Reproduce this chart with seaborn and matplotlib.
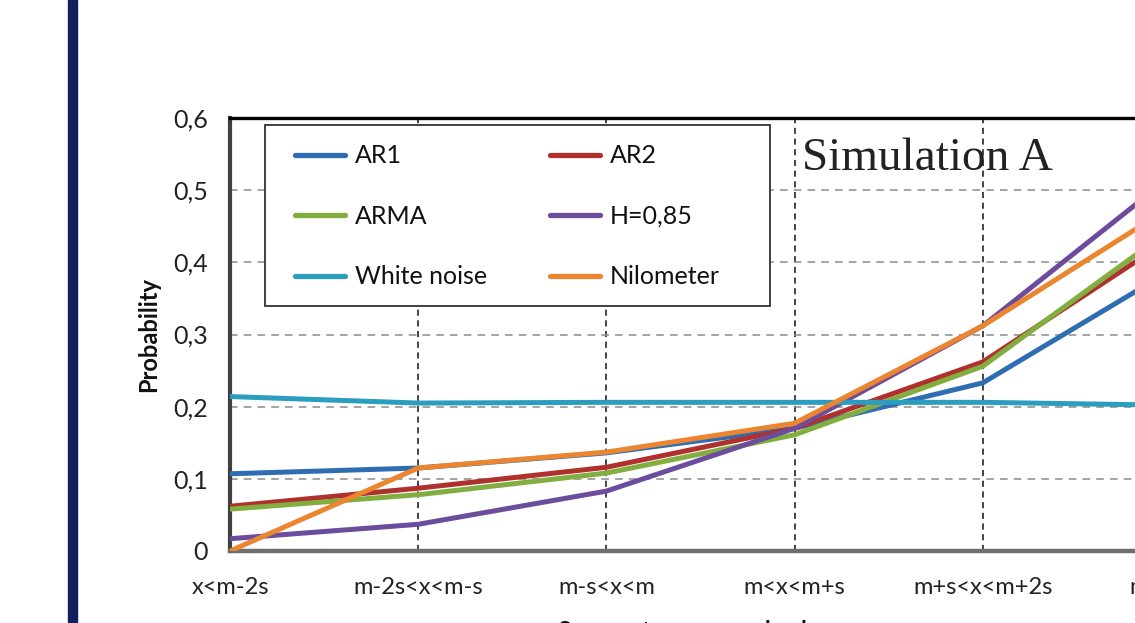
import matplotlib
matplotlib.use("Agg")
import matplotlib.pyplot as plt
from matplotlib.patches import Rectangle
import seaborn as sns
import pandas as pd

# ── Datos ──────────────────────────────────────────────────────────────────
clases = ["x<m-2s", "m-2s<x<m-s", "m-s<x<m", "m<x<m+s", "m+s<x<m+2s", "m+2s<x"]

ar1        = [0.107, 0.115, 0.136, 0.170, 0.233, 0.389]
ar2        = [0.062, 0.087, 0.116, 0.170, 0.262, 0.433]
arma       = [0.058, 0.078, 0.108, 0.161, 0.256, 0.446]
h085       = [0.017, 0.037, 0.083, 0.170, 0.312, 0.519]
ruido      = [0.214, 0.205, 0.206, 0.206, 0.206, 0.202]
nilometro  = [0.000, 0.115, 0.137, 0.177, 0.312, 0.477]

series = {
    "AR1": ar1,
    "AR2": ar2,
    "ARMA": arma,
    "H=0,85": h085,
    "White noise": ruido,
    "Nilometer": nilometro,
}
colores = {
    "AR1": "#2F6DB3",
    "AR2": "#B0302E",
    "ARMA": "#82AE3F",
    "H=0,85": "#6C4C9C",
    "White noise": "#2B9EBF",
    "Nilometer": "#EC8530",
}

y_ticks = [0, 0.1, 0.2, 0.3, 0.4, 0.5, 0.6]
y_labels = ["0", "0,1", "0,2", "0,3", "0,4", "0,5", "0,6"]

df = pd.DataFrame(
    [(i, v, nombre) for nombre, vals in series.items() for i, v in enumerate(vals)],
    columns=["clase", "prob", "serie"],
)

sns.set_theme(style="white")
plt.rcParams["font.family"] = ["Lato", "DejaVu Sans"]

fig = plt.figure(figsize=(11.35, 6.23), dpi=100)
ax = fig.add_axes([230 / 1135, 72 / 623, 941 / 1135, 433 / 623])

# barra azul lateral
fig.patches.append(Rectangle((68 / 1135, 0), 9 / 1135, 1, transform=fig.transFigure,
                             color="#10205C", zorder=0))

sns.lineplot(data=df, x="clase", y="prob", hue="serie", hue_order=list(series),
             palette=colores, linewidth=3.6, ax=ax, legend=False, zorder=3)

ax.set_xlim(0, len(clases) - 1)
ax.set_ylim(0, 0.6)
ax.set_xticks(range(len(clases)))
ax.set_xticklabels(clases, fontsize=17, color="#222222")
ax.set_yticks(y_ticks)
ax.set_yticklabels(y_labels, fontsize=18, color="#222222")
ax.tick_params(axis="x", length=0, pad=19)
ax.tick_params(axis="y", length=0, pad=16)

ax.grid(axis="y", color="#8c8c8c", linestyle=(0, (5, 4)), linewidth=1.1)
ax.grid(axis="x", color="#111111", linestyle=(0, (4, 3)), linewidth=1.1)

ax.spines["left"].set_color("#404040")
ax.spines["left"].set_linewidth(3)
ax.spines["bottom"].set_color("#6f6f6f")
ax.spines["bottom"].set_linewidth(3.2)
ax.spines["top"].set_color("#000000")
ax.spines["top"].set_linewidth(2.4)
ax.spines["right"].set_visible(False)

ax.set_xlabel("")
ax.set_ylabel("Probability", fontsize=17, fontweight="bold", color="#111111")
ax.yaxis.set_label_coords(-0.074, 0.5)

ax.text(0.5, -0.16, "Segment ranges and values", transform=ax.transAxes,
        ha="center", va="top", fontsize=17, fontweight="bold", color="#111111")

ax.text(0.608, 0.88, "Simulation A", transform=ax.transAxes, ha="left",
        va="baseline", fontsize=34, family=["Liberation Serif", "DejaVu Serif"],
        color="#222222", zorder=5)

# leyenda (orden por filas como en el original)
handles = []
orden = ["AR1", "ARMA", "White noise", "AR2", "H=0,85", "Nilometer"]
for nombre in orden:
    h, = ax.plot([], [], color=colores[nombre], linewidth=3.8, solid_capstyle="round")
    handles.append(h)
leg = ax.legend(handles, orden, ncol=2, loc="upper left",
                bbox_to_anchor=(0.0372 + 0.032, 0.984 - 0.045), frameon=False,
                fontsize=18, handlelength=2.0, handletextpad=0.4,
                columnspacing=2.5, labelspacing=1.5, borderpad=0.0,
                borderaxespad=0.0)
for t in leg.get_texts():
    t.set_color("#111111")
leg.set_zorder(6)

caja = Rectangle((0.0372, 0.566), 0.574 - 0.0372, 0.984 - 0.566,
                 transform=ax.transAxes, facecolor="white", edgecolor="#333333",
                 linewidth=1.3, zorder=4)
ax.add_patch(caja)

fig.savefig("out.png", dpi=100)
plt.close()
print("[OK] out.png")
